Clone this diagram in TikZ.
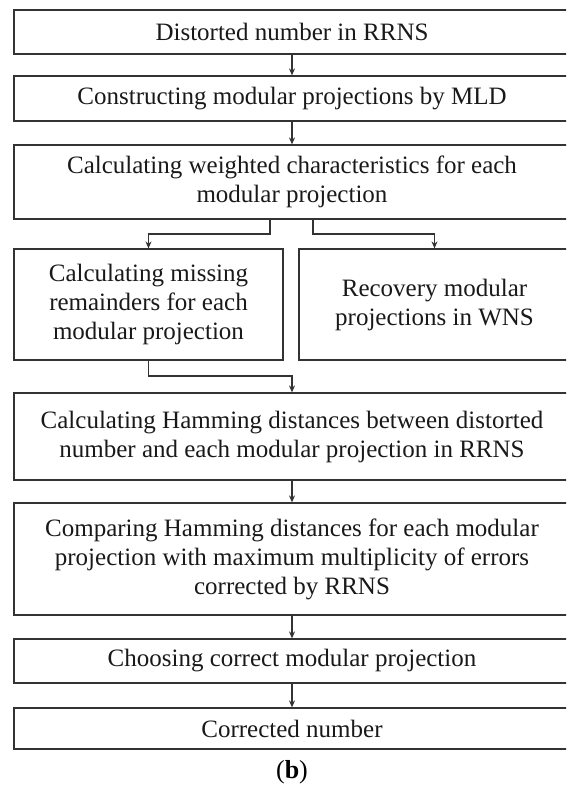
\documentclass[tikz,border=0pt]{standalone}
\usepackage{fontspec}
\setmainfont{Liberation Serif}
\usetikzlibrary{arrows.meta,positioning}

\tikzset{
  stepbox/.style={draw=black!80, line width=1.2pt, rectangle, inner sep=0pt,
    align=center, font=\fontsize{25}{29}\selectfont, text=black!90},
  arr/.style={draw=black!80, line width=1.2pt,
    -{Stealth[length=7pt,width=6pt]}},
}

\begin{document}
\begin{tikzpicture}[x=1pt,y=-1pt]
  \clip (0,0) rectangle (566,787);
  \useasboundingbox (0,0) rectangle (566,787);

  % main column of steps (right edge runs past the page)
  \node[stepbox, minimum width=556pt, minimum height=44pt] (b1) at (292,32)
    {Distorted number in RRNS};
  \node[stepbox, minimum width=556pt, minimum height=45pt] (b2) at (292,98.5)
    {Constructing modular projections by MLD};
  \node[stepbox, minimum width=556pt, minimum height=74pt] (b3) at (292,182)
    {Calculating weighted characteristics for each\\modular projection};

  % two parallel steps
  \node[stepbox, minimum width=269pt, minimum height=111pt] (b4) at (148.5,304.5)
    {Calculating missing\\remainders for each\\modular projection};
  \node[stepbox, minimum width=271pt, minimum height=111pt] (b5) at (434.5,304.5)
    {Recovery modular\\projections in WNS};

  \node[stepbox, minimum width=556pt, minimum height=87pt] (b6) at (292,436.5)
    {Calculating Hamming distances between distorted\\number and each modular projection in RRNS};
  \node[stepbox, minimum width=556pt, minimum height=112pt] (b7) at (292,559)
    {Comparing Hamming distances for each modular\\projection with maximum multiplicity of errors\\corrected by RRNS};
  \node[stepbox, minimum width=556pt, minimum height=44pt] (b8) at (292,661)
    {Choosing correct modular projection};
  \node[stepbox, minimum width=556pt, minimum height=41pt] (b9) at (292,728.5)
    {Corrected number};

  \node[font=\fontsize{26}{30}\selectfont, inner sep=0pt] (cap) at (292,772)
    {(\textbf{b})};

  % routing levels
  \coordinate (sp1) at (0,234);
  \coordinate (sp2) at (0,376);

  % connectors
  \draw[arr] (b1) -- (b2);
  \draw[arr] (b2) -- (b3);
  \draw[arr] ([xshift=-22pt]b3.south) |- (sp1 -| b4.north) -- (b4.north);
  \draw[arr] ([xshift=21pt]b3.south) |- (sp1 -| b5.north) -- (b5.north);
  \draw[arr] (b4.south) |- (sp2 -| b6.north) -- (b6.north);
  \draw[arr] (b6) -- (b7);
  \draw[arr] (b7) -- (b8);
  \draw[arr] (b8) -- (b9);
\end{tikzpicture}
\end{document}
